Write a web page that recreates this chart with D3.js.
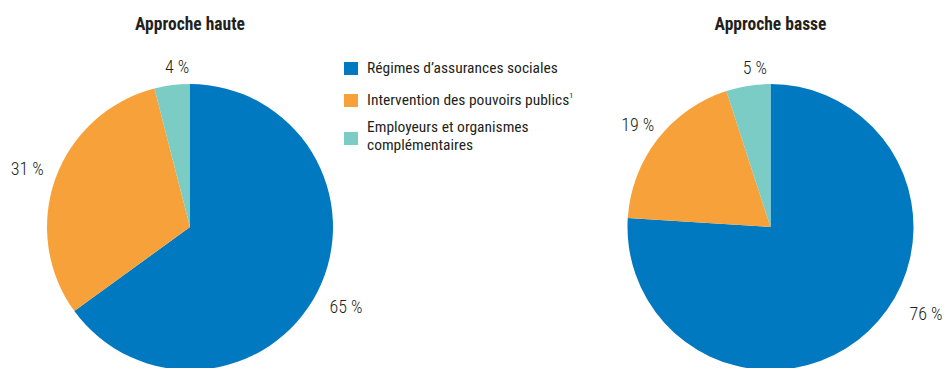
<!DOCTYPE html>
<html><head><meta charset="utf-8">
<script src="https://cdn.jsdelivr.net/npm/d3@7"></script>
<style>
body{margin:0;background:#fff;}
svg{display:block;}
text{font-family:"Liberation Sans Narrow","Roboto Condensed","Liberation Sans",sans-serif;fill:#231f20;}
.lbl{font-weight:300;}
</style></head><body>
<svg id="c" width="945" height="368"></svg>
<script>
const categories = ["Régimes d’assurances sociales", "Intervention des pouvoirs publics", "Employeurs et organismes complémentaires"];
const chartTitles = ["Approche haute", "Approche basse"];
const valuesHaute = [65, 31, 4];
const valuesBasse = [76, 19, 5];
const colors = ["#0079C1", "#F7A13B", "#7ACCC4"];

const svg = d3.select("#c");
const R = 143;
// label placement (layout only): [angle in degrees clockwise from top, radius]; null = slice middle
const charts = [
  {title: chartTitles[0], values: valuesHaute, cx: 190, cy: 227, labelPos: [[null, 175], [null, 173], [355.4, 161]]},
  {title: chartTitles[1], values: valuesBasse, cx: 770.5, cy: 227, labelPos: [[119.1, 178], [null, 168], [354.4, 160]]}
];
const pie = d3.pie().sort(null).value(d => d);
const arc = d3.arc().innerRadius(0).outerRadius(R);

charts.forEach(ch => {
  const g = svg.append("g").attr("transform", `translate(${ch.cx},${ch.cy})`);
  const arcs = pie(ch.values);
  g.selectAll("path").data(arcs).enter().append("path")
    .attr("d", arc).attr("fill", (d, i) => colors[i]);
  g.selectAll("text.lbl").data(arcs).enter().append("text")
    .attr("class", "lbl")
    .each(function(d, i) {
      const p = ch.labelPos[i];
      const a = p[0] != null ? p[0] * Math.PI / 180 : (d.startAngle + d.endAngle) / 2;
      const r = p[1];
      d3.select(this).attr("x", r * Math.sin(a)).attr("y", -r * Math.cos(a) + 6.5);
    })
    .attr("text-anchor", "middle")
    .attr("font-size", 18)
    .text(d => d.data + " %");
  svg.append("text").attr("x", ch.cx).attr("y", 30)
    .attr("text-anchor", "middle").attr("font-weight", "bold").attr("font-size", 17.5)
    .text(ch.title);
});

// legend
const legendRows = [[categories[0]], [categories[1]], ["Employeurs et organismes", "complémentaires"]];
const legendY = [62, 94, 121];
const sqYs = [62, 94, 132];
const lg = svg.append("g");
legendRows.forEach((lines, i) => {
  const y0 = legendY[i];
  lg.append("rect").attr("x", 344).attr("y", sqYs[i]).attr("width", 14).attr("height", 13).attr("fill", colors[i]);
  const t = lg.append("text").attr("class", "leg").attr("font-size", 15.5);
  lines.forEach((ln, j) => {
    t.append("tspan").attr("x", 367).attr("y", y0 + 11 + j * 18).text(ln);
  });
  if (i === 1) t.append("tspan").attr("font-size", 8).attr("dy", -7).text("1");
});
</script>
</body></html>
